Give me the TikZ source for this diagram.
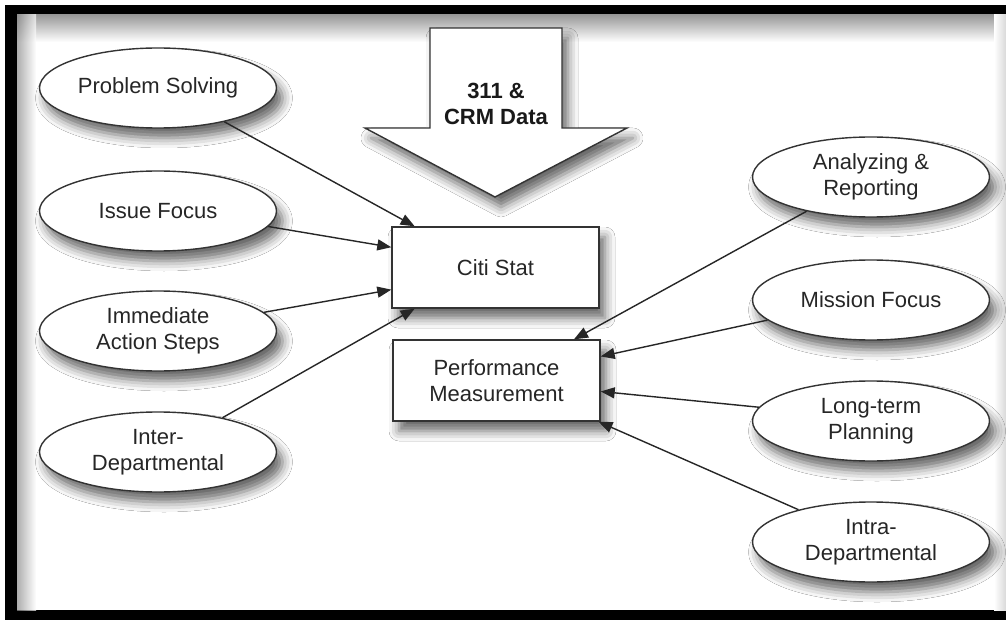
\documentclass[tikz,border=0pt]{standalone}
\usepackage{fontspec}
\setmainfont{Liberation Sans}
\usetikzlibrary{shapes.geometric,arrows.meta,shadows.blur}

\tikzset{
  ink/.style={draw=black!80, line width=0.7pt},
  soft/.style={blur shadow={shadow xshift=3pt, shadow yshift=-5pt,
      shadow blur radius=5pt, shadow opacity=60}},
  topic/.style={ellipse, ink, soft, fill=white, inner sep=0pt,
      minimum width=118.5pt, minimum height=40pt, align=center,
      text=black!85, font=\fontsize{11}{13}\selectfont},
  hub/.style={rectangle, ink, soft, fill=white, inner sep=0pt,
      minimum width=103.5pt, minimum height=40.5pt, align=center,
      text=black!85, font=\fontsize{11}{13}\selectfont},
  feed/.style={draw=black!85, line width=0.7pt,
      -{Triangle[length=7pt,width=5.5pt]}}
}

\begin{document}
\begin{tikzpicture}[x=0.5pt, y=-0.5pt]
\useasboundingbox (0,0) rectangle (1006,620);

% page frame with a soft inner shade
\fill[black] (5,5) rectangle (1006,620);
\fill[white] (17,15) rectangle (1006,610);
\shade[top color=black!40, bottom color=white] (17,15) rectangle (1006,42);
\shade[left color=black!45, right color=white, opacity=0.7] (17,15) rectangle (36,610);
\shade[left color=white, right color=black!15] (994,15) rectangle (1006,610);

% incoming data arrow
\path[ink, soft, fill=white, line join=miter]
  (430,28) -- (562,28) -- (562,128) -- (627,128) -- (495,197)
  -- (365,128) -- (430,128) -- cycle;
\node[align=center, font=\fontsize{11}{13}\selectfont\bfseries, text=black!90]
  (data) at (496,104) {311 \&\\CRM Data};

% central boxes
\node[hub] (cs) at (495.5,267.5) {Citi Stat};
\node[hub] (pm) at (496.5,380.5) {Performance\\Measurement};

% left topics
\node[topic] (ps) at (158,88)  {Problem Solving};
\node[topic] (if) at (158,211) {Issue Focus};
\node[topic] (ia) at (158,331) {Immediate\\Action Steps};
\node[topic] (ie) at (158,452) {Inter-\\Departmental};

% right topics
\node[topic] (ar) at (871,177) {Analyzing \&\\Reporting};
\node[topic] (mf) at (871,300) {Mission Focus};
\node[topic] (lt) at (871,421) {Long-term\\Planning};
\node[topic] (id) at (871,542) {Intra-\\Departmental};

% connectors into Citi Stat
\draw[feed] (ps.-27)   -- (cs.153.3);
\draw[feed] (if.-8.9)  -- (cs.169.3);
\draw[feed] (ia.10.9)  -- (cs.192.3);
\draw[feed] (ie.28.3)  -- (cs.207.3);

% connectors into Performance Measurement
\draw[feed] (ar.208.5) -- (pm.28.4);
\draw[feed] (mf.191.9) -- (pm.13.6);
\draw[feed] (lt.173.7) -- (pm.-6.8);
\draw[feed] (id.156.6) -- (pm.-22.9);
\end{tikzpicture}
\end{document}
